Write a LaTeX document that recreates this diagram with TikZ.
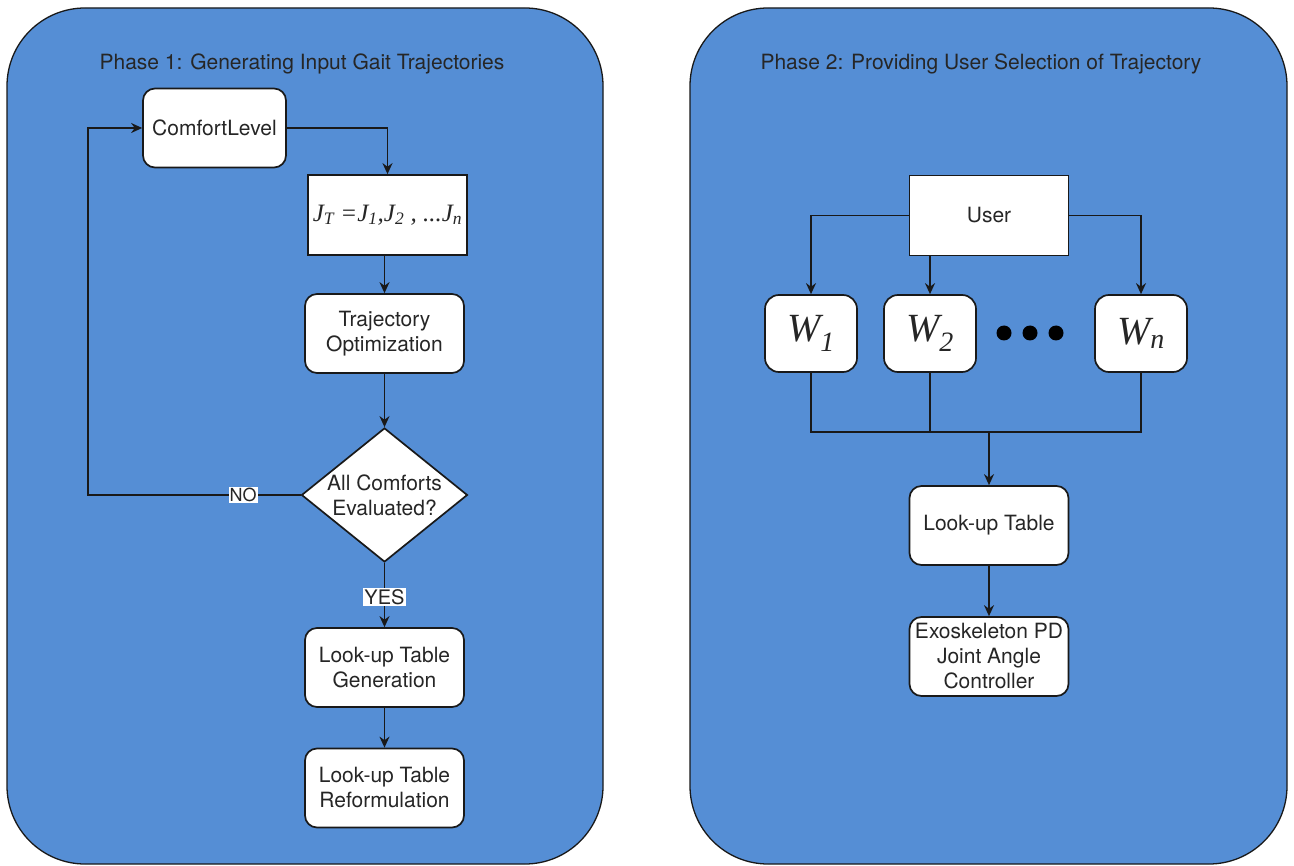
\documentclass[tikz,border=0pt]{standalone}
\usepackage{fontspec}
\setmainfont{TeX Gyre Heros}
\newfontfamily\serifface{Liberation Serif}
\usetikzlibrary{arrows.meta,shapes.geometric}
\definecolor{panelblue}{RGB}{85,142,213}
\definecolor{inkline}{RGB}{25,25,25}
\begin{document}
\begin{tikzpicture}[x=1pt,y=-1pt,
  panel/.style={draw=inkline, line width=1.3pt, fill=panelblue, rounded corners=78pt},
  ptitle/.style={font=\fontsize{21}{25}\selectfont, text=black!85, inner sep=0pt},
  basebox/.style={draw=inkline, line width=1.7pt, fill=white, align=center,
    font=\fontsize{21}{25}\selectfont, text=black!85, inner sep=0pt},
  rbox/.style={basebox, rounded corners=12pt, minimum width=159pt, minimum height=79pt},
  sbox/.style={basebox, minimum width=159pt, minimum height=80pt},
  wbox/.style={basebox, rounded corners=14pt, minimum width=92pt, minimum height=77pt,
    font=\serifface\itshape\fontsize{40}{42}\selectfont},
  decision/.style={diamond, draw=inkline, line width=1.7pt, fill=white, inner sep=0pt,
    minimum width=166pt, minimum height=134pt},
  dectext/.style={align=center, font=\fontsize{21}{25}\selectfont, text=black!85, inner sep=0pt},
  conn/.style={draw=inkline, line width=1.7pt},
  arr/.style={conn, -{Stealth[length=11pt,width=10pt]}},
  lbl/.style={fill=white, inner sep=1pt, font=\fontsize{19}{21}\selectfont, text=black!85},
]
\useasboundingbox (0,0) rectangle (1294,866);
\fill[white] (0,0) rectangle (1294,866);

% the two phase panels
\draw[panel] (7,8) rectangle (603,864);
\draw[panel] (690,8) rectangle (1287,864);

% ---------------- Phase 1 ----------------
\node[ptitle] (t1) at (302,64) {Phase 1: Generating Input Gait Trajectories};
\node[rbox, minimum width=143pt] (cl) at (214.5,128) {ComfortLevel};
\node[sbox, font=\serifface\itshape\fontsize{25}{28}\selectfont] (jbox) at (387.5,215)
  {J\textsubscript{T} =J\textsubscript{1},J\textsubscript{2} , ...J\textsubscript{n}};
\node[rbox] (traj) at (384.5,333.5) {Trajectory\\Optimization};
\node[decision] (dec) at (384.5,495) {};
\node[dectext] (dectxt) at (dec.center) {All Comforts\\Evaluated?};
\node[rbox] (gen) at (384.5,667.5) {Look-up Table\\Generation};
\node[rbox] (ref) at (384.5,788) {Look-up Table\\Reformulation};
\coordinate (loopc) at (88,495);

\draw[arr] (cl.east) -| (jbox.north);
\draw[arr] (jbox.south -| traj.north) -- (traj.north);
\draw[arr] (traj) -- (dec);
\draw[arr] (dec.west) -- node[lbl, pos=0.27, font=\fontsize{18}{20}\selectfont] {NO} (loopc) |- (cl.west);
\draw[arr] (dec.south) -- node[lbl, pos=0.53, font=\fontsize{20}{22}\selectfont] {YES} (gen.north);
\draw[arr] (gen) -- (ref);

% ---------------- Phase 2 ----------------
\node[ptitle] (t2) at (981,64) {Phase 2: Providing User Selection of Trajectory};
\node[sbox] (user) at (989,215.5) {User};
\node[wbox] (w1) at (811,333.5) {W\textsubscript{1}};
\node[wbox] (w2) at (930,333.5) {W\textsubscript{2}};
\node[wbox] (wn) at (1141,333.5) {W\textsubscript{n}};
\foreach \cx in {1004,1030,1056} \fill[black] (\cx,333) circle (7.5pt);
\node[rbox] (lut) at (989,525.5) {Look-up Table};
\node[rbox] (exo) at (989,656.5) {Exoskeleton PD\\Joint Angle\\Controller};
\coordinate (merge) at (989,432);

\draw[arr] (user.west) -| (w1.north);
\draw[arr] (w2.north |- user.south) -- (w2.north);
\draw[arr] (user.east) -| (wn.north);
\draw[conn] (w1.south) -- (w1.south |- merge) -- (wn.south |- merge) -- (wn.south);
\draw[conn] (w2.south) -- (w2.south |- merge);
\draw[arr] (merge) -- (lut.north);
\draw[arr] (lut) -- (exo);
\end{tikzpicture}
\end{document}
